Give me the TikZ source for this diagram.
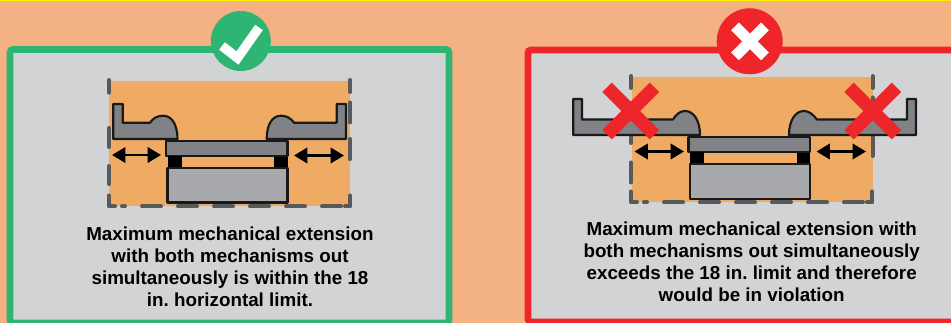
\documentclass[tikz,border=0pt]{standalone}
\usepackage{fontspec}
\setmainfont{Liberation Sans}
\usetikzlibrary{arrows.meta}
\definecolor{bgpeach}{HTML}{F4B183}
\definecolor{panelgray}{HTML}{D1D3D4}
\definecolor{okgreen}{HTML}{2FB573}
\definecolor{badred}{HTML}{EE2529}
\definecolor{zoneorange}{HTML}{EFAB63}
\definecolor{clawgray}{HTML}{808285}
\definecolor{basegray}{HTML}{A7A9AC}
\definecolor{dashgray}{HTML}{58595B}
\tikzset{
  x=0.75pt,y=-0.75pt,
  panelbox/.style={draw=#1,line width=4.9pt,fill=panelgray,rounded corners=2pt},
  badge/.style={circle,fill=#1,minimum size=45pt,inner sep=0pt},
  part/.style={draw=black!90,line width=1.6pt,line join=round},
  limit/.style={draw=dashgray,line width=3pt,line cap=round,line join=round},
  span/.style={{Triangle[width=11.5pt,length=10pt]}-{Triangle[width=11.5pt,length=10pt]},line width=1.9pt,black},
  caption/.style={font=\fontsize{14.1pt}{16.5pt}\selectfont\bfseries\frenchspacing,align=center,text=black,inner sep=0pt},
  bigx/.style={draw=badred,line width=9.9pt},
  tick/.style={draw=white,line width=7pt},
  cross/.style={draw=white,line width=8.2pt}
}
\newcommand{\machine}{%
  \draw[part,fill=clawgray] (-1.5,0) rectangle (120,14.7);
  \fill[black] (0,14.7) rectangle (14,27);
  \fill[black] (106.5,16) rectangle (120,27);
  \draw[part,fill=basegray] (0,27) rectangle (120,61.5);
}
\newcommand{\bottomdashes}{%
  \draw[limit] (108.7,-11) -- (108.7,0) -- (115,0);
  \draw[limit] (122,0) -- (125,0);
  \draw[limit] (142,0) -- (161,0);
  \draw[limit] (178,0) -- (197,0);
  \draw[limit] (214,0) -- (233,0);
  \draw[limit] (250,0) -- (269,0);
  \draw[limit] (286,0) -- (305,0);
  \draw[limit] (322,0) -- (341,0);
  \draw[limit] (345,0) -- (350.3,0) -- (350.3,-11);
}
\begin{document}
\begin{tikzpicture}
\useasboundingbox (0,0) rectangle (951,323);
\fill[bgpeach] (0,0) rectangle (951,323);
\fill[yellow] (0,0) rectangle (951,1.5);
% left panel
\draw[panelbox=okgreen] (10,49.5) rectangle (449,323);
\node[badge=okgreen] (b1) at (240.8,41) {};
\draw[tick] (222,46) -- (237.5,58) -- (259,27.5);
\fill[zoneorange] (109,81) rectangle (350,206.5);
\begin{scope}[shift={(0,206.5)}]\bottomdashes\end{scope}
\draw[limit] (109,80) -- (109,92.7) (109,128) -- (109,147) (109,166) -- (109,184);
\draw[limit] (350.3,80) -- (350.3,92) (350.3,102.5) -- (350.3,122.5) (350.3,139) -- (350.3,159);
\begin{scope}[shift={(167.5,141)}]\machine\end{scope}
\draw[part,fill=clawgray] (113.3,104) -- (122.7,104) -- (122.7,122.7) -- (150,122.7) .. controls (153,118) and (158,115.7) .. (163,115.7) .. controls (172,115.7) and (177.5,125) .. (177.5,139) -- (113.3,139) -- cycle;
\draw[part,fill=clawgray] (346,104) -- (336.7,104) -- (336.7,122.7) -- (294,122.7) .. controls (291,118) and (286,115.7) .. (281,115.7) .. controls (272,115.7) and (266.7,125) .. (266.7,139) -- (346,139) -- cycle;
\coordinate (a1) at (112,155); \coordinate (a2) at (161,155);
\coordinate (a3) at (294,155.5); \coordinate (a4) at (344,155.5);
\draw[span] (a1) -- (a2);
\draw[span] (a3) -- (a4);
\node[caption] (t1) at (230,266.5) {Maximum mechanical extension\\with both mechanisms out\\simultaneously is within the 18\\in. horizontal limit.};
% right panel
\draw[panelbox=badred] (528,50) rectangle (960,322);
\node[badge=badred,minimum size=49.5pt] (b2) at (749.7,41.3) {};
\draw[cross] (735,26.3) -- (765,56.3) (765,26.3) -- (735,56.3);
\fill[zoneorange] (631.5,77) rectangle (872.7,202.5);
\begin{scope}[shift={(522,202.5)}]\bottomdashes\end{scope}
\draw[limit] (631,76) -- (631,88) (631,136) -- (631,143) (631,162.5) -- (631,182.5);
\draw[limit] (872.5,76) -- (872.5,88) (872.5,97.5) -- (872.5,115) (872.5,136) -- (872.5,156);
\begin{scope}[shift={(690,137.3)}]\machine\end{scope}
\draw[part,fill=clawgray] (573.3,99) -- (582,99) -- (582,119.5) -- (673,119.5) .. controls (676,114.5) and (680,111) .. (685,111) .. controls (694,111) and (700,121) .. (700,135) -- (573.3,135) -- cycle;
\draw[part,fill=clawgray] (916,99) -- (907,99) -- (907,119.5) -- (817,119.5) .. controls (813,114.5) and (809,111) .. (804,111) .. controls (795,111) and (789,121) .. (789,135) -- (916,135) -- cycle;
\coordinate (a5) at (634.5,151.5); \coordinate (a6) at (684,151.5);
\coordinate (a7) at (816.5,151.5); \coordinate (a8) at (866,151.5);
\draw[span] (a5) -- (a6);
\draw[span] (a7) -- (a8);
\draw[bigx] (607,87.3) -- (654.4,134.7) (654.4,87.3) -- (607,134.7);
\draw[bigx] (849,87.3) -- (896.4,134.7) (896.4,87.3) -- (849,134.7);
\node[caption] (t2) at (751.7,262) {Maximum mechanical extension with\\both mechanisms out simultaneously\\exceeds the 18 in. limit and therefore\\would be in violation};
\end{tikzpicture}
\end{document}
